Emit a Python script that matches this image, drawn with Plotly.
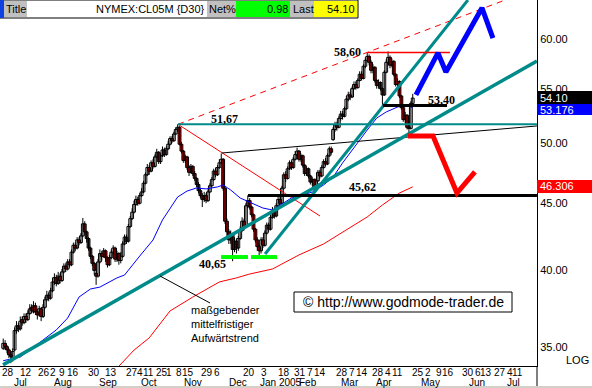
import plotly.graph_objects as go

# ---------------- data (trading-day index, prices) ----------------
day = list(range(-2, 215))

open_ = [34.9,35.2,35.0,34.8,34.5,34.3,34.8,36.0,36.3,36.1,
         36.7,36.5,36.9,36.7,37.1,37.5,37.2,37.6,37.2,37.0,
         37.4,36.9,37.5,38.0,38.3,38.1,38.6,39.2,39.5,39.1,
         39.6,39.3,39.9,40.3,40.1,40.6,40.4,41.3,41.8,41.6,
         42.2,42.0,42.5,43.4,42.8,42.3,41.6,41.0,40.5,39.8,
         39.6,40.6,41.2,41.0,41.4,40.9,40.4,40.9,41.3,41.6,
         40.8,41.2,40.7,41.0,41.9,42.4,42.1,43.2,43.8,44.3,
         44.9,45.3,45.0,45.6,45.9,46.6,47.3,47.9,47.6,48.3,
         48.0,48.8,49.2,48.4,48.9,49.4,49.0,49.5,49.9,50.4,
         50.2,50.8,51.2,51.4,49.9,49.3,48.5,48.8,47.9,47.5,
         48.0,47.4,47.0,46.5,46.0,45.6,45.3,45.6,45.2,45.9,
         46.4,46.9,47.6,47.3,47.9,48.3,48.6,46.2,43.6,42.8,
         42.2,42.6,41.5,42.1,41.6,42.3,42.9,43.6,43.2,44.8,
         45.2,44.7,44.1,43.0,42.2,41.7,41.4,42.2,41.8,42.7,
         43.3,43.0,43.9,44.4,44.0,44.8,45.3,45.0,46.2,47.3,
         47.0,47.8,48.3,47.9,48.6,49.0,49.3,48.6,48.9,48.1,
         47.4,47.8,47.2,46.7,46.9,46.3,46.8,47.5,47.2,47.9,
         48.4,48.2,48.9,49.5,50.3,51.2,51.6,51.4,52.2,52.6,
         52.4,53.1,54.0,54.4,54.2,55.0,55.4,55.1,55.8,56.4,
         56.0,57.2,57.8,58.2,57.6,56.8,57.1,55.8,55.3,55.6,
         55.0,54.4,56.6,57.6,58.1,57.3,57.7,56.4,55.4,55.7,
         54.3,53.2,52.1,52.5,51.4,51.3,53.6]

high = [35.5,35.4,35.1,34.9,34.7,34.9,36.2,36.6,36.5,36.9,
        36.9,37.1,37.1,37.3,37.7,37.7,37.9,37.8,37.4,37.6,
        37.5,37.7,38.2,38.6,38.5,38.8,39.5,39.8,39.7,39.9,
        39.8,40.1,40.5,40.5,40.8,40.8,41.5,42.0,42.0,42.4,
        42.4,42.7,43.85,43.6,42.9,42.4,41.7,41.1,40.6,40.1,
        40.8,41.5,41.4,41.6,41.5,41.0,41.1,41.5,41.8,41.7,
        41.4,41.3,41.3,42.1,42.6,42.6,43.4,44.0,44.6,45.2,
        45.6,45.5,45.8,46.2,46.8,47.5,48.2,48.1,48.5,48.6,
        49.0,49.5,49.3,49.1,49.7,49.6,49.7,50.2,50.6,50.6,
        51.0,51.4,51.67,51.5,50.1,49.4,49.0,48.9,48.1,48.2,
        48.1,47.6,47.1,46.7,46.2,45.8,45.9,45.8,46.1,46.6,
        47.1,47.8,47.9,48.1,48.6,49.1,48.7,46.3,43.8,43.0,
        42.9,42.7,42.4,42.3,42.5,43.2,43.9,43.8,45.0,45.62,
        45.4,44.8,44.2,43.1,42.4,41.9,42.4,42.4,42.9,43.5,
        43.5,44.1,44.7,44.6,45.0,45.5,45.5,46.4,47.5,47.6,
        48.0,48.5,48.5,48.8,49.3,49.6,49.4,49.1,49.0,48.2,
        48.0,47.9,47.3,47.1,47.0,47.0,47.7,47.7,48.1,48.6,
        48.7,49.1,49.7,49.7,51.4,51.9,51.9,52.4,52.9,52.9,
        53.3,54.3,54.7,54.7,55.2,55.7,55.7,56.0,56.7,56.7,
        57.4,58.1,58.6,58.4,57.8,57.4,57.2,55.9,55.9,55.7,
        55.1,56.8,57.9,58.7,58.3,58.0,57.8,56.5,56.0,55.8,
        54.4,53.3,52.8,52.6,51.9,53.8,54.5]

low = [34.8,34.8,34.6,34.3,34.0,34.1,34.7,35.8,35.9,36.0,
       36.3,36.4,36.5,36.6,37.0,37.1,37.1,37.0,36.7,36.9,
       36.6,36.8,37.4,37.9,37.9,38.0,38.5,39.0,38.9,39.0,
       39.1,39.2,39.8,39.9,40.0,40.2,40.3,41.2,41.4,41.5,
       41.8,41.9,42.4,42.6,42.0,41.4,40.8,40.3,39.7,39.0,
       39.5,40.5,40.7,40.9,40.6,40.2,40.3,40.8,41.1,40.6,
       40.6,40.4,40.5,40.9,41.8,41.9,42.0,43.1,43.7,44.2,
       44.8,44.8,44.9,45.5,45.8,46.5,47.2,47.3,47.5,47.8,
       47.9,48.7,48.2,48.2,48.8,48.8,48.9,49.4,49.8,50.0,
       50.1,50.7,51.0,49.8,49.1,48.3,48.3,47.7,47.2,47.4,
       47.2,46.8,46.3,45.8,45.4,44.7,45.1,45.0,45.1,45.8,
       46.3,46.8,47.1,47.2,47.8,48.2,46.0,43.4,42.5,41.9,
       41.9,40.65,41.3,41.2,41.4,42.2,42.8,42.9,43.1,44.6,
       44.5,43.9,42.8,42.0,41.4,40.85,41.2,41.6,41.7,42.6,
       42.8,42.9,43.8,43.8,43.9,44.7,44.8,44.9,46.1,46.7,
       46.9,47.7,47.7,47.8,48.5,48.9,48.4,48.4,47.9,47.2,
       47.2,47.0,46.5,46.4,45.62,46.1,46.7,47.0,47.1,47.8,
       48.0,48.1,48.8,49.0,50.2,51.0,51.1,51.3,52.0,52.1,
       52.3,53.0,53.8,53.9,54.1,54.9,54.9,55.0,55.7,55.8,
       55.9,57.0,57.6,57.3,56.5,56.5,55.6,55.0,55.0,54.8,
       53.4,54.3,56.5,57.4,57.0,57.1,56.2,55.2,55.1,54.1,
       53.0,51.9,51.8,51.2,50.85,51.2,53.4]

close = [35.2,35.0,34.8,34.5,34.4,34.7,36.0,36.3,36.1,36.6,
         36.5,36.9,36.7,37.1,37.4,37.3,37.6,37.2,37.0,37.4,
         36.9,37.5,38.0,38.3,38.1,38.6,39.2,39.5,39.1,39.6,
         39.3,39.9,40.3,40.1,40.6,40.4,41.3,41.8,41.6,42.2,
         42.0,42.5,43.4,42.8,42.3,41.6,41.0,40.5,40.0,39.6,
         40.6,41.2,41.0,41.4,40.9,40.4,40.9,41.3,41.6,40.8,
         41.2,40.7,41.0,41.9,42.4,42.1,43.2,43.8,44.3,44.9,
         45.3,45.0,45.6,45.9,46.6,47.3,47.9,47.6,48.3,48.0,
         48.8,49.2,48.4,48.9,49.4,49.0,49.5,49.9,50.4,50.2,
         50.8,51.2,51.4,49.9,49.3,48.5,48.8,47.9,47.5,48.0,
         47.4,47.0,46.5,46.0,45.6,45.3,45.6,45.2,45.9,46.4,
         46.9,47.6,47.3,47.9,48.3,48.6,46.2,43.6,42.8,42.2,
         42.6,41.5,42.1,41.6,42.3,42.9,43.6,43.2,44.8,45.2,
         44.7,44.1,43.0,42.2,41.7,41.4,42.2,41.8,42.7,43.3,
         43.0,43.9,44.4,44.0,44.8,45.3,45.0,46.2,47.3,47.0,
         47.8,48.3,47.9,48.6,49.0,49.3,48.6,48.9,48.1,47.4,
         47.8,47.2,46.7,46.9,46.3,46.8,47.5,47.2,47.9,48.4,
         48.2,48.9,49.5,49.2,51.2,51.6,51.4,52.2,52.6,52.4,
         53.1,54.0,54.4,54.2,55.0,55.4,55.1,55.8,56.4,56.0,
         57.2,57.8,58.2,57.6,56.8,57.1,55.8,55.3,55.6,55.0,
         54.4,56.6,57.6,58.1,57.3,57.7,56.4,55.4,55.7,54.3,
         53.2,52.1,52.5,51.4,51.3,53.6,54.1]

# moving averages
ma_fast_day = [-2, 7, 19, 26, 32, 38, 44, 49, 58, 62, 70, 77, 82, 86, 90, 95, 100, 105, 111, 114,
               118, 123, 128, 135, 140, 144, 150, 156, 161, 167, 172, 177, 182, 190, 195, 200, 206, 211, 214]
ma_fast_val = [34.15, 34.37, 35.41, 36.04, 36.80, 38.18, 38.72, 38.85, 39.48, 39.68,
               41.02, 42.19, 43.70, 44.62, 45.49, 45.97, 46.22, 46.14, 46.30, 46.46,
               46.05, 45.41, 45.10, 44.62, 44.47, 44.86, 45.41, 45.65, 45.89, 46.46,
               47.11, 48.29, 49.40, 51.16, 52.24, 52.80, 53.26, 53.45, 53.18]
ma_slow_day = [58, 67, 75, 86, 98, 112, 121, 128, 140, 146, 154, 167, 179, 190, 198, 207, 214]
ma_slow_val = [33.70, 34.79, 35.54, 37.26, 38.18, 39.20, 39.48, 39.75, 40.10, 40.53,
               41.10, 41.90, 42.94, 43.93, 44.86, 45.81, 46.31]

# drawn analysis lines (day index, price)
trend_long = ([-2.1, 279.5], [33.90, 57.73])
trend_steep = ([136.1, 243.1], [41.17, 64.24])
res_5167 = ([90.2, 279.5], [51.67, 51.67])
channel_top = ([90.2, 262.7], [51.67, 64.24])
fan_down = ([90.2, 165.1], [51.67, 44.00])
line_black = ([113.4, 279.5], [49.14, 51.52])
sup_4562 = ([127.1, 279.5], [45.62, 45.62])
sup_5340 = ([198.3, 232.1], [53.40, 53.40])
res_5860 = ([190.4, 233.6], [58.60, 58.60])
base_1 = ([112.9, 127.1], [40.95, 40.95])
base_2 = ([128.7, 142.4], [40.95, 40.95])
bull_day = [215.7, 227.3, 231.5, 250.5, 256.3]
bull_val = [54.40, 58.55, 56.63, 63.35, 60.10]
bear_day = [211.5, 224.7, 237.3, 246.8]
bear_val = [50.62, 50.62, 45.81, 47.53]

# axis labels
tick_pos = [0.3, 10.0, 19.5, 24.3, 29.0, 34.8, 45.9, 54.9, 65.9, 70.1, 74.6, 81.8, 85.4, 90.7,
            95.5, 105.5, 110.8, 127.6, 135.5, 146.1, 154.5, 159.8, 165.1, 176.7, 182.0, 187.2,
            195.7, 201.0, 206.2, 216.8, 222.0, 227.8, 232.6, 243.1, 248.4, 252.6, 260.0, 265.3, 269.5]
tick_day = ["28", "12", "26", "2", "9", "16", "30", "13", "27", "4", "11", "25", "1", "8",
            "15", "29", "6", "20", "3", "18", "31", "7", "14", "28", "7", "14",
            "28", "4", "11", "25", "2", "9", "16", "30", "6", "13", "27", "4", "11"]
month_pos = [6.9, 29.5, 53.3, 74.9, 98.1, 121.8, 158.5, 144.6, 180.9, 198.8, 223.1, 247.9, 267.4]
month_lbl = ["Jul", "Aug", "Sep", "Oct", "Nov", "Dec", "Feb", "Jan 2005", "Mar", "Apr", "May", "Jun", "Jul"]
y_ticks = [35, 40, 45, 50, 55, 60]
y_ticktext = ["35.00", "40.00", "45.00", "50.00", "55.00", "60.00"]

# ---------------- layout helpers (pixel -> paper) ----------------
PR, PB = 537, 366
def P(x):
    return x / PR
def Q(y):
    return 1 - y / PB

SANS = "Liberation Sans, Arial, sans-serif"
SERIF = "Liberation Serif, Times New Roman, serif"
TEAL = "#008b8b"

fig = go.Figure()

# wicks
wx, wy = [], []
for d, h, l in zip(day, high, low):
    wx += [d, d, None]
    wy += [l, h, None]
fig.add_trace(go.Scatter(x=wx, y=wy, mode="lines", line=dict(color="black", width=1), hoverinfo="skip"))

up = [k for k in range(len(day)) if close[k] >= open_[k]]
dn = [k for k in range(len(day)) if close[k] < open_[k]]
fig.add_trace(go.Bar(x=[day[k] for k in up], base=[open_[k] for k in up],
                     y=[max(close[k] - open_[k], 0.04) for k in up], width=1.5,
                     marker=dict(color="white", line=dict(color="black", width=1))))
fig.add_trace(go.Bar(x=[day[k] for k in dn], base=[close[k] for k in dn],
                     y=[open_[k] - close[k] for k in dn], width=1.5,
                     marker=dict(color="#e00000", line=dict(color="black", width=1))))

# moving averages
fig.add_trace(go.Scatter(x=ma_slow_day, y=ma_slow_val, mode="lines", line=dict(color="#ff0000", width=1)))
fig.add_trace(go.Scatter(x=ma_fast_day, y=ma_fast_val, mode="lines", line=dict(color="#0000ff", width=1)))

def seg(xy, color, width, dash="solid"):
    fig.add_trace(go.Scatter(x=xy[0], y=xy[1], mode="lines",
                             line=dict(color=color, width=width, dash=dash), hoverinfo="skip"))

seg(channel_top, "#ff0000", 1, "6px,5px")
seg(fan_down, "#ff0000", 1)
seg(line_black, "black", 1)
seg(res_5167, TEAL, 2)
seg(trend_long, TEAL, 3.5)
seg(trend_steep, TEAL, 3)
seg(sup_4562, "black", 3)
seg(sup_5340, "black", 3)
seg(res_5860, "#ff0000", 1.5)
seg(base_1, "#00ff00", 4)
seg(base_2, "#00ff00", 4)
seg((bull_day, bull_val), "#0000ff", 5)
seg((bear_day, bear_val), "#ff0000", 5)

shapes = []
ann = []

def rect(x0, y0, x1, y1, fill, line=None, lw=0):
    shapes.append(dict(type="rect", xref="paper", yref="paper", x0=P(x0), x1=P(x1), y0=Q(y1), y1=Q(y0),
                       fillcolor=fill, line=dict(color=line or fill, width=lw), layer="above"))

def text(x, y, s, size=11, color="black", anchor="left", family=SANS, bold=False):
    if bold:
        s = "<b>" + s + "</b>"
    ann.append(dict(xref="paper", yref="paper", x=P(x), y=Q(y), text=s, showarrow=False,
                    xanchor=anchor, yanchor="middle", font=dict(size=size, color=color, family=family),
                    borderpad=0))

# pointer line to the trend line
shapes.append(dict(type="line", xref="paper", yref="paper", x0=P(160), y0=Q(276), x1=P(210), y1=Q(303),
                   line=dict(color="black", width=1)))

# header bar
rect(0, 0, 358, 18, "white", "black", 1)
rect(0, 0, 4, 18, "#1040e0")
rect(4, 1, 27, 17, "#c0c0c0")
rect(207, 1, 236, 17, "#c0c0c0")
rect(236, 1, 290, 17, "#00ff00")
rect(290, 1, 314, 17, "#c0c0c0")
rect(314, 1, 357, 17, "#ffff00")
text(5, 9.5, "Title")
text(206, 9.5, "NYMEX:CL05M {D30}", anchor="right")
text(208, 9.5, "Net%")
text(289, 9.5, "0.98", anchor="right")
text(292, 9.5, "Last")
text(356, 9.5, "54.10", anchor="right")

# price tags on the right axis
rect(537, 91, 592, 104, "black")
rect(537, 104, 592, 115, "#0000ff")
rect(537, 180, 592, 193, "#ff0000")
text(539, 97.5, "54.10", color="white")
text(539, 109.5, "53.176", color="white")
text(539, 186.5, "46.306", color="white")
text(590, 360, "LOG", anchor="right")

# right axis line extension and window edge
shapes.append(dict(type="line", xref="paper", yref="paper", x0=1, x1=1, y0=0, y1=Q(388),
                   line=dict(color="black", width=1)))
rect(0, 386, 592, 388, "#d4d0c8")

# copyright box
rect(294, 292, 512, 312, "white", "black", 1)
text(403, 302, "© http://www.godmode-trader.de", size=14, anchor="center")

# value labels
text(224, 119, "51,67", size=12, family=SERIF, bold=True, anchor="center")
text(347, 52, "58,60", size=12, family=SERIF, bold=True, anchor="center")
text(441, 100, "53,40", size=12, family=SERIF, bold=True, anchor="center")
text(362, 187, "45,62", size=12, family=SERIF, bold=True, anchor="center")
text(212, 264, "40,65", size=12, family=SERIF, bold=True, anchor="center")

# annotation text
text(190, 310, "maßgebender")
text(190, 324, "mittelfristiger")
text(190, 338, "Aufwärtstrend")

# date labels under the axis: day row and month row
for tp, tl in zip(tick_pos, tick_day):
    ann.append(dict(xref="x", yref="paper", x=tp, y=Q(373), text=tl, showarrow=False,
                    xanchor="center", yanchor="middle", borderpad=0,
                    font=dict(size=10, family=SANS, color="black")))
for mp, ml in zip(month_pos, month_lbl):
    ann.append(dict(xref="x", yref="paper", x=mp, y=Q(382), text=ml, showarrow=False,
                    xanchor="center", yanchor="middle", borderpad=0,
                    font=dict(size=10, family=SANS, color="black")))

fig.update_layout(
    width=592, height=388,
    margin=dict(l=0, r=592 - PR, t=0, b=388 - PB),
    paper_bgcolor="white", plot_bgcolor="white",
    showlegend=False, barmode="overlay",
    shapes=shapes, annotations=ann,
    xaxis=dict(range=[-7 / 1.896, 530 / 1.896], showgrid=False, zeroline=False,
               showline=True, linecolor="black", linewidth=1,
               tickmode="array", tickvals=tick_pos, showticklabels=False, ticks=""),
    yaxis=dict(type="log", range=[1.52935, 1.80782], side="right", showgrid=False, zeroline=False,
               showline=True, linecolor="black", linewidth=1,
               tickmode="array", tickvals=y_ticks, ticktext=y_ticktext, ticks="",
               tickfont=dict(size=11, family=SANS, color="black")),
)

fig.write_html("out.html")
